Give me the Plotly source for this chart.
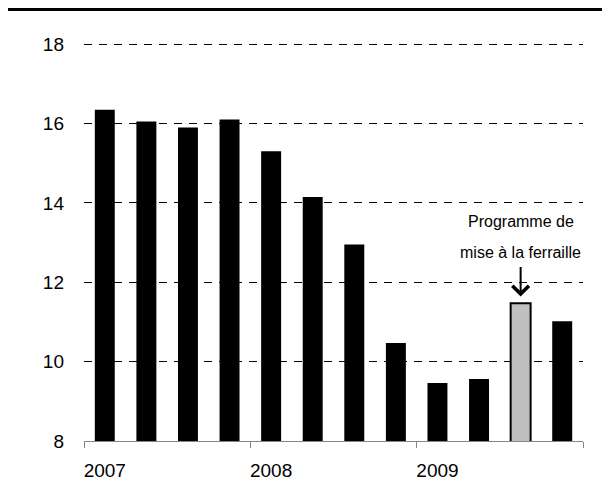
import plotly.graph_objects as go

# quarterly values, 2007 Q1 .. 2009 Q4
values = [16.35, 16.05, 15.9, 16.1, 15.3, 14.15, 12.95, 10.47, 9.46, 9.56, 11.47, 11.02]
years = ["2007", "2008", "2009"]
year_starts = [0, 4, 8]
year_bounds = [-0.5, 3.5, 7.5, 11.5]
highlight = 10  # scrappage programme quarter
note_top = "Programme de"
note_bottom = "mise à la ferraille"

colors = ["#c0c0c0" if i == highlight else "black" for i in range(len(values))]
line_w = [2 if i == highlight else 0 for i in range(len(values))]

fig = go.Figure(go.Bar(
    x=list(range(len(values))),
    y=values,
    marker=dict(color=colors, line=dict(color="black", width=line_w)),
    hoverinfo="y",
))

fig.update_xaxes(
    range=[-0.5, 11.5],
    tickmode="array",
    tickvals=year_starts,
    ticktext=years,
    ticks="",
    ticklabelstandoff=12,
    showgrid=False,
    showline=True,
    linecolor="#868686",
    linewidth=1,
    zeroline=False,
    automargin=False,
    minor=dict(tickvals=year_bounds, ticks="outside", ticklen=6,
               tickcolor="#868686", tickwidth=1, showgrid=False),
)

fig.update_yaxes(
    range=[8, 18.03],
    tickvals=[8, 10, 12, 14, 16, 18],
    ticks="",
    ticklabelstandoff=19,
    showgrid=True,
    gridcolor="black",
    gridwidth=1,
    griddash="8px,7px",
    zeroline=False,
    showline=False,
    automargin=False,
)

# label + arrow for the scrappage bar
fig.add_annotation(
    x=highlight, y=13.52, text=note_top, showarrow=False,
    font=dict(size=16, color="black"),
)
fig.add_annotation(
    x=highlight, y=12.74, text=note_bottom, showarrow=False,
    font=dict(size=16, color="black"),
)
fig.add_annotation(
    x=highlight, y=11.64,
    ax=highlight, ay=12.42, axref="x", ayref="y",
    text="", showarrow=True,
    arrowhead=4, arrowsize=1.6, arrowwidth=2, arrowcolor="black",
)

# thick rule across the top
fig.add_shape(type="line", xref="paper", yref="paper",
              x0=-0.2, x1=1.1, y0=1.0854, y1=1.0854,
              line=dict(color="black", width=4))

fig.update_layout(
    width=610, height=502,
    bargap=0.52,
    showlegend=False,
    paper_bgcolor="white",
    plot_bgcolor="white",
    font=dict(family="Liberation Sans, Arial", size=19, color="black"),
    margin=dict(l=76, r=35, t=35, b=69),
)

fig.write_html("out.html")
